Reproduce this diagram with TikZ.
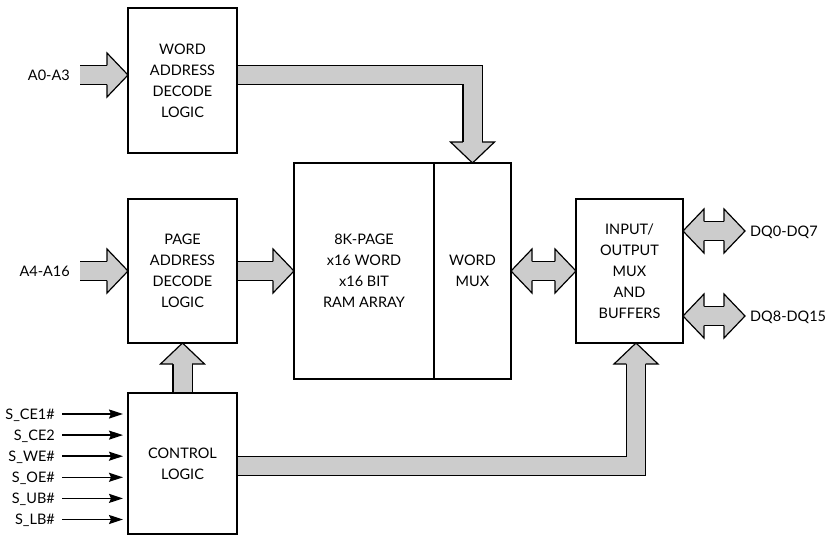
\documentclass[tikz,border=0pt]{standalone}
\usepackage{fontspec}
\setmainfont{Lato}
\usetikzlibrary{positioning}
\usetikzlibrary{calc}
\usetikzlibrary{arrows.meta}
\definecolor{busgray}{gray}{0.8}

\begin{document}
\begin{tikzpicture}[
    x=1pt, y=-1pt,
    font=\fontsize{14.5}{21}\selectfont,
    block/.style={draw, line width=1.2pt, align=center, outer sep=0pt, inner sep=0pt},
    bus/.style={line width=1.2pt, double=busgray, double distance=18pt},
    sig/.style={-{Stealth[length=14pt,width=9pt,inset=2pt]}, line width=1.5pt, shorten <=4pt, shorten >=5pt},
    lbl/.style={inner sep=3pt, text height=10pt, text depth=0pt},
    bushead/.pic={
        \fill[busgray] (0,0) -- (-21,22) -- (-21,-22) -- cycle;
        \draw[line width=1.2pt] (-21,9.6) -- (-21,22) -- (0,0) -- (-21,-22) -- (-21,-9.6);
    }
]

    \useasboundingbox (0,0) rectangle (825,536);

    % Blocks
    \node[block, minimum width=109pt, minimum height=145pt] (worddec) at (182.5,80.5) {WORD\\ADDRESS\\DECODE\\LOGIC};
    \node[block, minimum width=109pt, minimum height=144pt] (pagedec) at (182.5,271) {PAGE\\ADDRESS\\DECODE\\LOGIC};
    \node[block, minimum width=109pt, minimum height=141pt] (ctrl) at (182.5,463.5) {CONTROL\\LOGIC};
    \node[block, minimum width=140pt, minimum height=216pt] (ram) at (364,271) {8K-PAGE\\x16 WORD\\x16 BIT\\RAM ARRAY};
    \node[block, minimum width=77pt, minimum height=216pt] (wmux) at (472.5,271) {WORD\\MUX};
    \node[block, minimum width=107pt, minimum height=144pt] (iobuf) at (629.5,271) {INPUT/\\OUTPUT\\MUX\\AND\\BUFFERS};

    % Address inputs
    \foreach \y/\txt/\blk in {75/A0-A3/worddec, 271/A4-A16/pagedec} {
        \coordinate (in\y) at (80,\y);
        \coordinate (in\y tip) at (\blk.west |- in\y);
        \node[lbl, left=7pt of in\y] {\txt};
        \draw[bus] (in\y) -- ($(in\y tip)+(-21,0)$);
        \pic at (in\y tip) {bushead};
    }

    % Page decode to array
    \draw[bus, shorten <=0.6pt] (pagedec.east) -- ($(ram.west)+(-21,0)$);
    \pic at (ram.west) {bushead};

    % Word decode to word mux
    \draw[bus, shorten <=0.6pt] ($(worddec.east)+(0,-5.5)$) -| ($(wmux.north)+(0,-21)$);
    \pic[rotate=-90] at (wmux.north) {bushead};

    % Control to page decode
    \draw[bus, shorten <=0.6pt] (ctrl.north) -- ($(pagedec.south)+(0,21)$);
    \pic[rotate=90] at (pagedec.south) {bushead};

    % Control to buffers
    \coordinate (iotip) at ($(iobuf.south)+(6.5,0)$);
    \draw[bus, shorten <=0.6pt] ($(ctrl.east)+(0,2.5)$) -| ($(iotip)+(0,21)$);
    \pic[rotate=90] at (iotip) {bushead};

    % Word mux to buffers
    \draw[bus] ($(wmux.east)+(21,0)$) -- ($(iobuf.west)+(-21,0)$);
    \pic[rotate=180] at (wmux.east) {bushead};
    \pic at (iobuf.west) {bushead};

    % Data lines
    \foreach \y/\txt in {231/DQ0-DQ7, 316/DQ8-DQ15} {
        \coordinate (dq\y) at (745,\y);
        \coordinate (dq\y tip) at (iobuf.east |- dq\y);
        \draw[bus] ($(dq\y tip)+(21,0)$) -- ($(dq\y)+(-21,0)$);
        \pic[rotate=180] at (dq\y tip) {bushead};
        \pic at (dq\y) {bushead};
        \node[lbl, right=2pt of dq\y] {\txt};
    }

    % Control signals
    \foreach \name [count=\i] in {S\_CE1\#, S\_CE2, S\_WE\#, S\_OE\#, S\_UB\#, S\_LB\#} {
        \node[lbl, anchor=east] (sig\i) at (58, {392.9+21.1*\i}) {\name};
        \draw[sig] (sig\i.east) -- (sig\i.east -| ctrl.west);
    }

\end{tikzpicture}
\end{document}
